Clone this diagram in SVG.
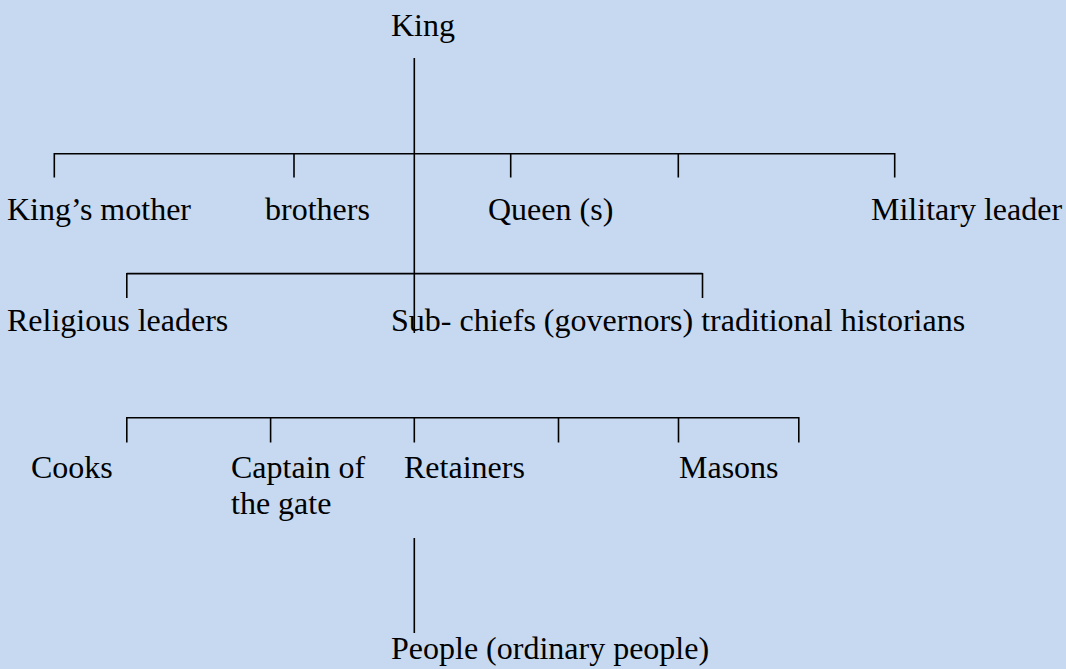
<svg xmlns="http://www.w3.org/2000/svg" width="1066" height="669" viewBox="0 0 1066 669">
<style>
.t{font-family:"Liberation Serif","Times New Roman",serif;font-size:32px;fill:#000}
.c line{stroke:#000;stroke-width:1.6;fill:none}
</style>
<rect x="0" y="0" width="1066" height="669" fill="#C6D9F1"/>
<g id="connectors" class="c">
<line x1="414.3" y1="58" x2="414.3" y2="333"/>
<line x1="54.3" y1="153.7" x2="894.7" y2="153.7"/>
<line x1="54.3" y1="153" x2="54.3" y2="177.5"/>
<line x1="294" y1="153" x2="294" y2="177.5"/>
<line x1="510.7" y1="153" x2="510.7" y2="177.5"/>
<line x1="678.3" y1="153" x2="678.3" y2="177.5"/>
<line x1="894.7" y1="153" x2="894.7" y2="177.5"/>
<line x1="126.8" y1="273.6" x2="702.5" y2="273.6"/>
<line x1="126.8" y1="273" x2="126.8" y2="298"/>
<line x1="702.5" y1="273" x2="702.5" y2="298"/>
<line x1="126.8" y1="417.7" x2="798.8" y2="417.7"/>
<line x1="126.8" y1="417" x2="126.8" y2="442.5"/>
<line x1="270.6" y1="417" x2="270.6" y2="442.5"/>
<line x1="414.3" y1="417" x2="414.3" y2="442.5"/>
<line x1="558.5" y1="417" x2="558.5" y2="442.5"/>
<line x1="678.5" y1="417" x2="678.5" y2="442.5"/>
<line x1="798.8" y1="417" x2="798.8" y2="442.5"/>
<line x1="414.3" y1="538" x2="414.3" y2="633"/>
</g>
<g id="king"><text class="t" x="391" y="36">King</text></g>
<g id="kings-mother"><text class="t" x="7" y="220">King’s mother</text></g>
<g id="brothers"><text class="t" x="265" y="220">brothers</text></g>
<g id="queens"><text class="t" x="488" y="220">Queen (s)</text></g>
<g id="military-leader"><text class="t" x="871" y="220">Military leader</text></g>
<g id="religious-leaders"><text class="t" x="7" y="331">Religious leaders</text></g>
<g id="sub-chiefs"><text class="t" x="391" y="331">Sub- chiefs (governors) traditional historians</text></g>
<g id="cooks"><text class="t" x="31" y="478">Cooks</text></g>
<g id="captain"><text class="t" x="231" y="478">Captain of</text><text class="t" x="231" y="514">the gate</text></g>
<g id="retainers"><text class="t" x="404" y="478">Retainers</text></g>
<g id="masons"><text class="t" x="679" y="478">Masons</text></g>
<g id="people"><text class="t" x="391" y="659">People (ordinary people)</text></g>
</svg>
